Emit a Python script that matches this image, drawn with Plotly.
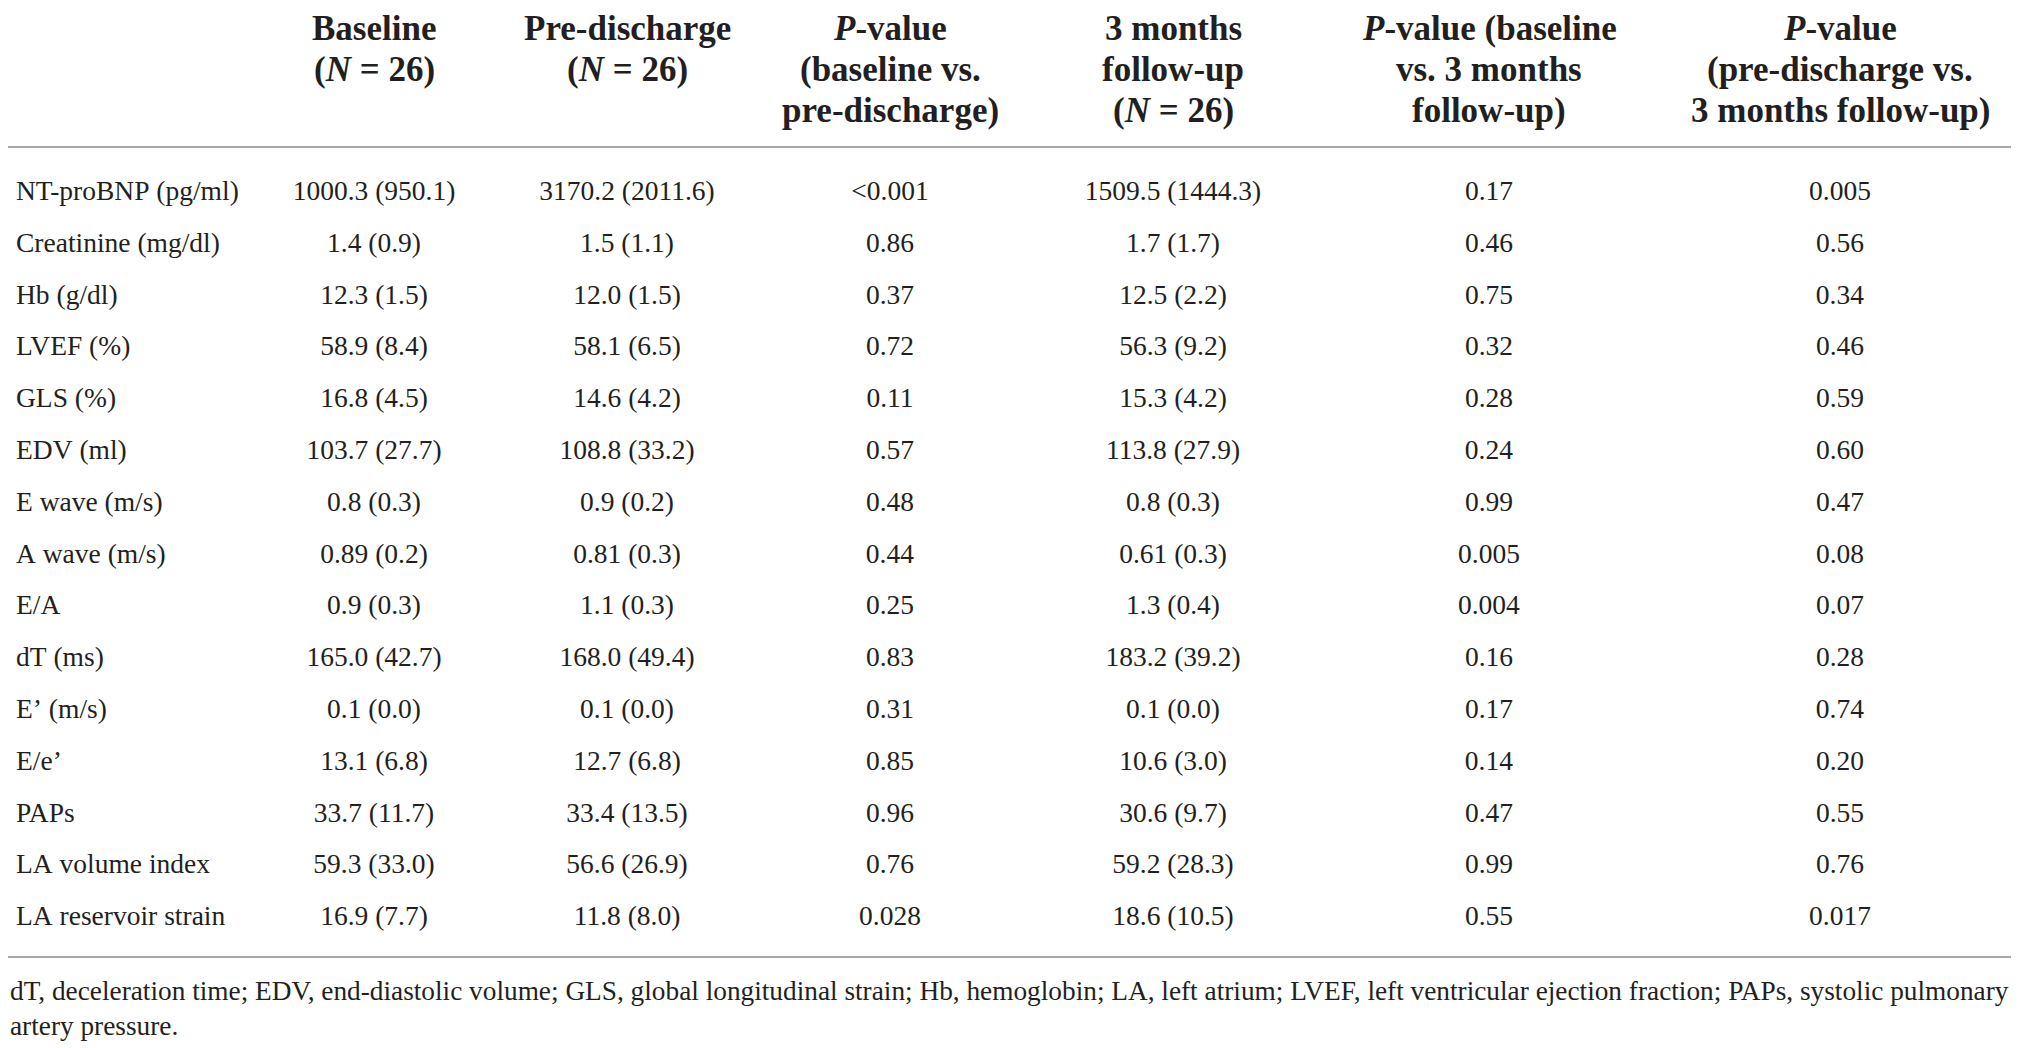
import plotly.graph_objects as go

# table contents
params = ["NT-proBNP (pg/ml)", "Creatinine (mg/dl)", "Hb (g/dl)", "LVEF (%)", "GLS (%)",
          "EDV (ml)", "E wave (m/s)", "A wave (m/s)", "E/A", "dT (ms)", "E\u2019 (m/s)",
          "E/e\u2019", "PAPs", "LA volume index", "LA reservoir strain"]
baseline = ["1000.3 (950.1)", "1.4 (0.9)", "12.3 (1.5)", "58.9 (8.4)", "16.8 (4.5)",
            "103.7 (27.7)", "0.8 (0.3)", "0.89 (0.2)", "0.9 (0.3)", "165.0 (42.7)",
            "0.1 (0.0)", "13.1 (6.8)", "33.7 (11.7)", "59.3 (33.0)", "16.9 (7.7)"]
predischarge = ["3170.2 (2011.6)", "1.5 (1.1)", "12.0 (1.5)", "58.1 (6.5)", "14.6 (4.2)",
                "108.8 (33.2)", "0.9 (0.2)", "0.81 (0.3)", "1.1 (0.3)", "168.0 (49.4)",
                "0.1 (0.0)", "12.7 (6.8)", "33.4 (13.5)", "56.6 (26.9)", "11.8 (8.0)"]
p_base_pre = ["<0.001", "0.86", "0.37", "0.72", "0.11", "0.57", "0.48", "0.44", "0.25",
              "0.83", "0.31", "0.85", "0.96", "0.76", "0.028"]
followup = ["1509.5 (1444.3)", "1.7 (1.7)", "12.5 (2.2)", "56.3 (9.2)", "15.3 (4.2)",
            "113.8 (27.9)", "0.8 (0.3)", "0.61 (0.3)", "1.3 (0.4)", "183.2 (39.2)",
            "0.1 (0.0)", "10.6 (3.0)", "30.6 (9.7)", "59.2 (28.3)", "18.6 (10.5)"]
p_base_fu = ["0.17", "0.46", "0.75", "0.32", "0.28", "0.24", "0.99", "0.005", "0.004",
             "0.16", "0.17", "0.14", "0.47", "0.99", "0.55"]
p_pre_fu = ["0.005", "0.56", "0.34", "0.46", "0.59", "0.60", "0.47", "0.08", "0.07",
            "0.28", "0.74", "0.20", "0.55", "0.76", "0.017"]

# header lines per column (the first column has no header)
header_lines = [
    [],
    ["Baseline", "(<i>N</i> = 26)"],
    ["Pre-discharge", "(<i>N</i> = 26)"],
    ["<i>P</i>-value", "(baseline vs.", "pre-discharge)"],
    ["3 months", "follow-up", "(<i>N</i> = 26)"],
    ["<i>P</i>-value (baseline", "vs. 3 months", "follow-up)"],
    ["<i>P</i>-value", "(pre-discharge vs.", "3 months follow-up)"],
]

footnote = ("dT, deceleration time; EDV, end-diastolic volume; GLS, global longitudinal strain; "
            "Hb, hemoglobin; LA, left atrium; LVEF, left ventricular ejection fraction; "
            "PAPs, systolic pulmonary<br>artery pressure.")

W, H = 2019, 1048
ink = "#231f20"
rule = "#a8a8a8"
serif = "Liberation Serif, Times New Roman, serif"
colwidths = [240, 252, 254, 272, 294, 338, 364]
table_w = sum(colwidths)


def cell(v):
    # same text path for every cell (keeps "<0.001" on the row baseline), no wrapping
    v = v.replace("<", "&lt;").replace(" ", "\u00a0")
    return "<span>" + v + "</span>"


columns = [params, baseline, predischarge, p_base_pre, followup, p_base_fu, p_pre_fu]

fig = go.Figure()

fig.add_trace(go.Table(
    domain=dict(x=[0, table_w / W], y=[0, 1]),
    columnwidth=colwidths,
    header=dict(
        values=[""] * len(colwidths),
        height=159,
        fill_color="white",
        line=dict(color="white", width=0),
        font=dict(family=serif, size=4, color="white"),
    ),
    cells=dict(
        values=[[cell(v) for v in col] for col in columns],
        align=["left"] + ["center"] * 6,
        height=51.8,
        fill_color="white",
        line=dict(color="white", width=0),
        font=dict(family=serif, size=27.5, color=ink),
    ),
))

# bold column headings, centred over each table column
left = 0
for w, lines in zip(colwidths, header_lines):
    for k, line in enumerate(lines):
        fig.add_annotation(
            text="<b>" + line + "</b>", xref="paper", yref="paper",
            x=(left + w / 2) / W, y=1 - (20.5 + 41 * k) / H,
            xanchor="center", yanchor="middle", showarrow=False,
            font=dict(family=serif, size=35, color=ink),
        )
    left += w

# horizontal rules under the header and under the last row
for ypx in [139, 949]:
    fig.add_shape(type="line", xref="paper", yref="paper",
                  x0=0, x1=2007 / W, y0=1 - ypx / H, y1=1 - ypx / H,
                  line=dict(color=rule, width=2))

fig.add_annotation(
    text=footnote, xref="paper", yref="paper",
    x=0, y=1 - 966 / H, xanchor="left", yanchor="top",
    align="left", showarrow=False,
    font=dict(family=serif, size=27.3, color=ink),
)

fig.update_layout(
    width=W, height=H,
    margin=dict(l=0, r=0, t=0, b=0),
    paper_bgcolor="white",
    plot_bgcolor="white",
)

fig.write_html("out.html")
